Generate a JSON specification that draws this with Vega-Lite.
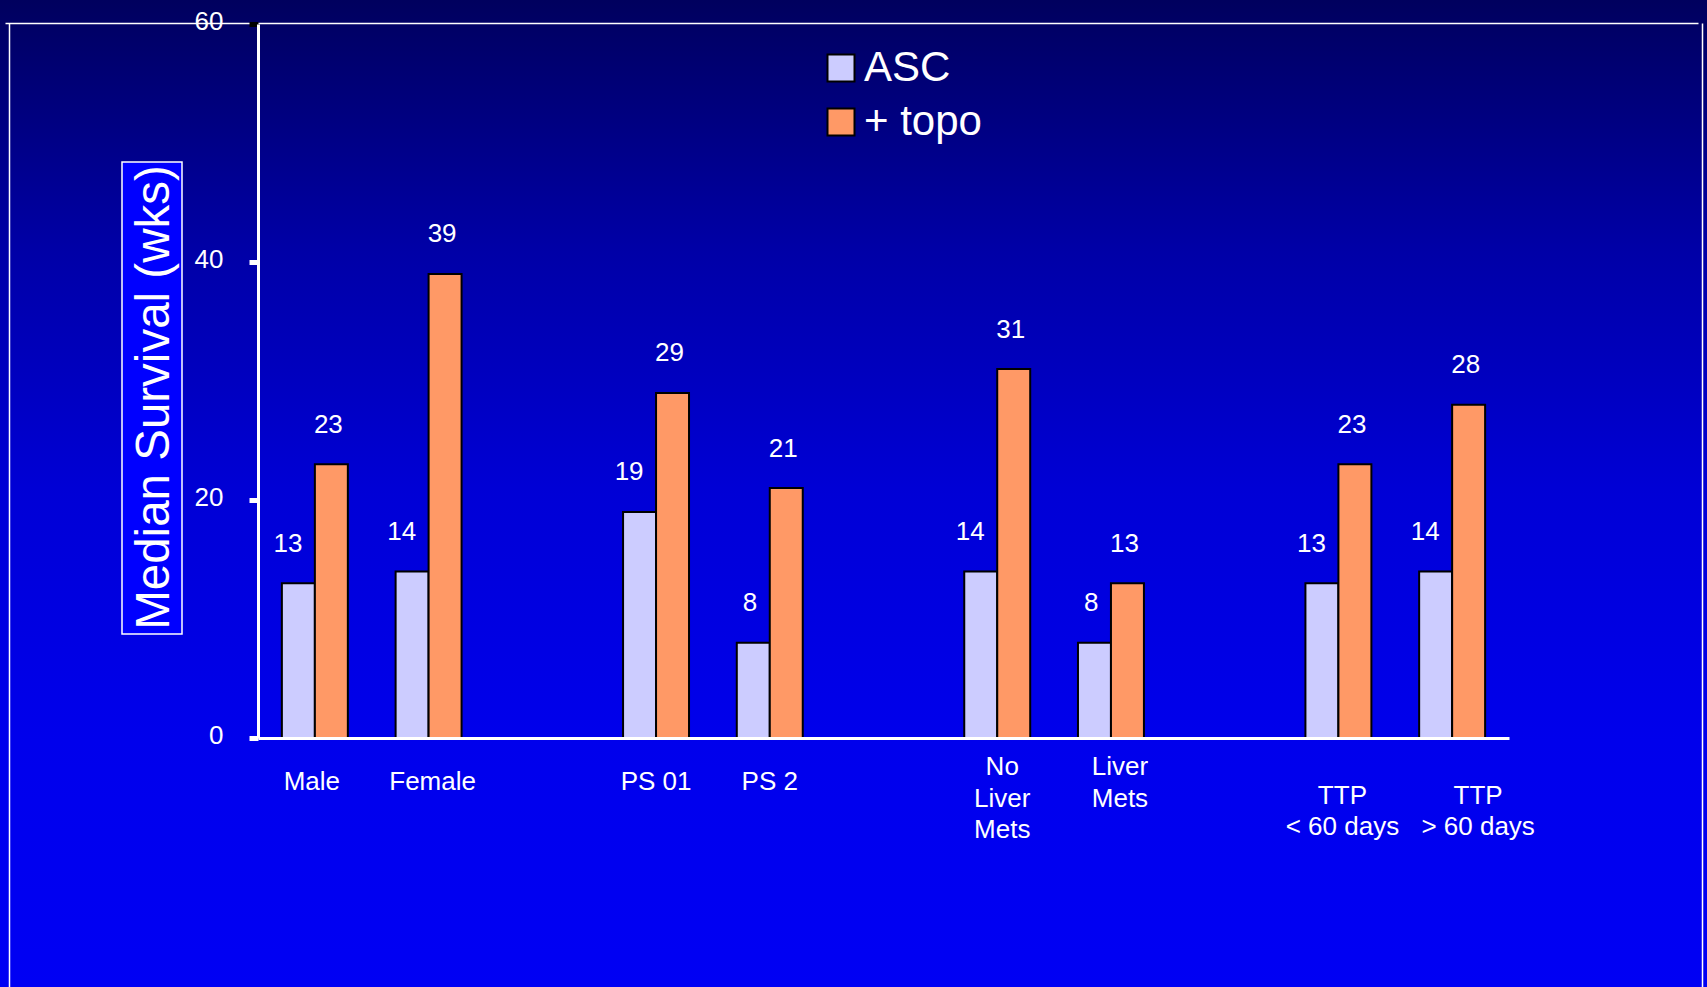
{
  "$schema": "https://vega.github.io/schema/vega-lite/v6.json",
  "width": 1707,
  "height": 987,
  "autosize": {"type": "none"},
  "padding": 0,
  "background": "#0000b0",
  "config": {
    "font": "Liberation Sans",
    "view": {
      "stroke": null,
      "fill": {
        "gradient": "linear",
        "x1": 0, "y1": 0, "x2": 0, "y2": 1,
        "stops": [
          {"offset": 0, "color": "#00005e"},
          {"offset": 0.25, "color": "#0000a6"},
          {"offset": 0.5, "color": "#0000d6"},
          {"offset": 0.75, "color": "#0000ec"},
          {"offset": 1, "color": "#0000f4"}
        ]
      }
    },
    "axis": {"labelFont": "Liberation Sans", "labelColor": "white", "titleFont": "Liberation Sans"},
    "legend": {"labelFont": "Liberation Sans", "titleFont": "Liberation Sans"}
  },
  "data": {
    "values": [
      {"group": "Male", "series": "ASC", "weeks": 13},
      {"group": "Male", "series": "+ topo", "weeks": 23},
      {"group": "Female", "series": "ASC", "weeks": 14},
      {"group": "Female", "series": "+ topo", "weeks": 39},
      {"group": "PS 01", "series": "ASC", "weeks": 19},
      {"group": "PS 01", "series": "+ topo", "weeks": 29},
      {"group": "PS 2", "series": "ASC", "weeks": 8},
      {"group": "PS 2", "series": "+ topo", "weeks": 21},
      {"group": "No Liver Mets", "series": "ASC", "weeks": 14},
      {"group": "No Liver Mets", "series": "+ topo", "weeks": 31},
      {"group": "Liver Mets", "series": "ASC", "weeks": 8},
      {"group": "Liver Mets", "series": "+ topo", "weeks": 13},
      {"group": "TTP < 60 days", "series": "ASC", "weeks": 13},
      {"group": "TTP < 60 days", "series": "+ topo", "weeks": 23},
      {"group": "TTP > 60 days", "series": "ASC", "weeks": 14},
      {"group": "TTP > 60 days", "series": "+ topo", "weeks": 28}
    ]
  },
  "layer": [
    {
      "encoding": {
        "x": {
          "field": "group",
          "type": "nominal",
          "scale": {
            "domain": ["Male", "Female", "gap1", "PS 01", "PS 2", "gap2", "No Liver Mets", "Liver Mets", "gap3", "TTP < 60 days", "TTP > 60 days"],
            "range": [258, 1509],
            "paddingInner": 0.42,
            "paddingOuter": 0.21
          },
          "axis": {
            "orient": "bottom",
            "offset": -249,
            "title": null,
            "zindex": 2,
            "domainColor": "white",
            "domainWidth": 3,
            "ticks": false,
            "labelFontSize": 26,
            "labelColor": "white",
            "labelBaseline": "middle",
            "labelPadding": {
              "condition": [
                {"test": "datum.value === 'No Liver Mets' || datum.value === 'Liver Mets'", "value": 28.6},
                {"test": "datum.value === 'TTP < 60 days' || datum.value === 'TTP > 60 days'", "value": 57}
              ],
              "value": 43.5
            },
            "labelLineHeight": 31.6,
            "labelAngle": 0,
            "labelLimit": 0,
            "labelOverlap": false,
            "labelOffset": {
              "condition": [
                {"test": "datum.value === 'TTP > 60 days'", "value": 26},
                {"test": "datum.value === 'Liver Mets'", "value": 9},
                {"test": "datum.value === 'No Liver Mets'", "value": 5},
                {"test": "datum.value === 'TTP < 60 days'", "value": 4},
                {"test": "datum.value === 'Female'", "value": 4},
                {"test": "datum.value === 'Male'", "value": -3}
              ],
              "value": 0
            },
            "labelExpr": "datum.value === 'No Liver Mets' ? ['No', 'Liver', 'Mets'] : datum.value === 'Liver Mets' ? ['Liver', 'Mets'] : datum.value === 'TTP < 60 days' ? ['TTP', '< 60 days'] : datum.value === 'TTP > 60 days' ? ['TTP', '> 60 days'] : indexof(datum.value, 'gap') === 0 ? '' : datum.label"
          }
        },
        "xOffset": {
          "field": "series",
          "type": "nominal",
          "scale": {"domain": ["ASC", "+ topo"], "paddingInner": 0, "paddingOuter": 0}
        },
        "y": {
          "field": "weeks",
          "type": "quantitative",
          "scale": {"domain": [0, 60], "range": [738, 24], "nice": false, "zero": true},
          "axis": {
            "orient": "left",
            "offset": -258,
            "zindex": 2,
            "title": "Median Survival (wks)",
            "titleX": -103.5,
            "titleY": 397,
            "titleAngle": -90,
            "titleAlign": "center",
            "titleBaseline": "middle",
            "titleFontSize": 47.5,
            "titleFontWeight": "normal",
            "titleColor": "white",
            "titleLimit": 0,
            "titlePadding": 0,
            "values": [0, 20, 40, 60],
            "grid": false,
            "domainColor": "white",
            "domainWidth": 3,
            "tickColor": {"condition": {"test": "datum.value === 60", "value": "black"}, "value": "white"},
            "tickSize": 9,
            "tickWidth": 5,
            "labelFontSize": 26,
            "labelColor": "white",
            "labelPadding": 26,
            "labelOffset": -3,
            "labelFlush": false
          }
        }
      },
      "layer": [
        {
          "mark": {"type": "bar", "stroke": "black", "strokeWidth": 2},
          "encoding": {
            "color": {
              "field": "series",
              "type": "nominal",
              "scale": {"domain": ["ASC", "+ topo"], "range": ["#ccccff", "#ff9966"]},
              "legend": {
                "orient": "none",
                "legendX": 820,
                "legendY": 47,
                "title": null,
                "padding": 0,
                "labelFontSize": 42,
                "labelColor": "white",
                "labelLimit": 0,
                "labelOffset": 2,
                "rowPadding": 12,
                "symbolType": "square",
                "symbolSize": 729,
                "symbolStrokeColor": "black",
                "symbolStrokeWidth": 2,
                "symbolOpacity": 1
              }
            }
          }
        },
        {
          "transform": [{"filter": "datum.series === 'ASC'"}],
          "mark": {"type": "text", "color": "white", "fontSize": 26, "align": "right", "baseline": "middle", "dx": 4, "dy": -39.5},
          "encoding": {"text": {"field": "weeks", "type": "quantitative"}}
        },
        {
          "transform": [{"filter": "datum.series === '+ topo'"}],
          "mark": {"type": "text", "color": "white", "fontSize": 26, "align": "center", "baseline": "middle", "dx": -3, "dy": -39.5},
          "encoding": {"text": {"field": "weeks", "type": "quantitative"}}
        }
      ]
    },
    {
      "data": {"values": [{"fx": 0, "fy": 0}, {"fx": 1, "fy": 1}]},
      "mark": {"type": "point", "opacity": 0},
      "encoding": {
        "x": {
          "field": "fx",
          "type": "quantitative",
          "scale": {"domain": [0, 1], "range": [9, 1702], "nice": false, "zero": false},
          "axis": {"orient": "top", "values": [0, 1], "grid": true, "gridColor": "white", "gridWidth": 1.5, "gridOpacity": 1, "domain": false, "ticks": false, "labels": false, "title": null}
        },
        "y": {
          "field": "fy",
          "type": "quantitative",
          "scale": {"domain": [0, 1], "range": [1000, 23], "nice": false, "zero": false},
          "axis": {"orient": "right", "values": [1], "grid": true, "gridColor": "white", "gridWidth": 1.5, "gridOpacity": 1, "domain": false, "ticks": false, "labels": false, "title": null}
        },
        "fill": {
          "field": "fx",
          "type": "quantitative",
          "scale": {"domain": [0, 1], "range": ["#0000ff", "#0000ff"]},
          "legend": {
            "orient": "none",
            "legendX": 122,
            "legendY": 162,
            "direction": "vertical",
            "title": null,
            "padding": 0,
            "zindex": 0,
            "gradientLength": 472,
            "gradientThickness": 60,
            "gradientStrokeColor": "white",
            "gradientStrokeWidth": 1.5,
            "gradientOpacity": 1,
            "labelOpacity": 0,
            "labelFontSize": 1
          }
        }
      }
    }
  ],
  "resolve": {
    "scale": {"x": "independent", "y": "independent", "fill": "independent", "color": "independent"},
    "axis": {"x": "independent", "y": "independent"},
    "legend": {"fill": "independent", "color": "independent"}
  }
}
